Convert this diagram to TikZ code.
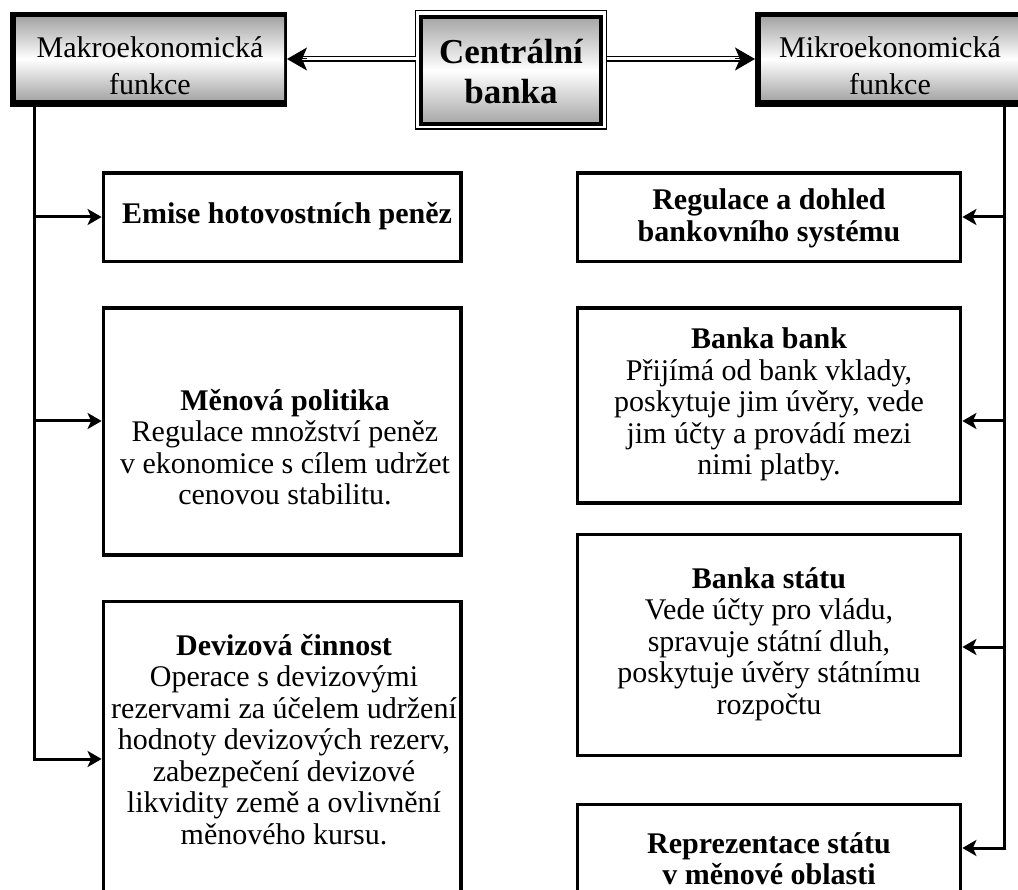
\documentclass[tikz,border=0pt]{standalone}
\usepackage{fontspec}
\setmainfont{Liberation Serif}
\usetikzlibrary{arrows.meta}
\tikzset{
  box/.style={draw, line width=3.8pt, inner sep=0pt},
  conn/.style={line width=3pt},
  arr/.style={line width=3pt, -{Stealth[length=14pt,width=16pt,inset=3.5pt]}},
  bigarr/.style={line width=1pt, -{Stealth[length=20pt,width=23pt,inset=5pt]}},
  dbl/.style={line width=1.9pt, double=white, double distance=3pt},
  txt/.style={align=center, inner sep=0pt, font=\fontsize{30}{31.5}\selectfont},
  toptxt/.style={align=center, inner sep=0pt, font=\fontsize{30}{37}\selectfont},
  shade3/.style={top color=black!35, bottom color=black!35, middle color=white},
}
\begin{document}
\begin{tikzpicture}[x=1pt,y=-1pt]
\useasboundingbox (0,0) rectangle (1018,890);
% top-left box
\node[fill=black, minimum width=277pt, minimum height=95pt, inner sep=0pt, outer sep=0pt] (makro) at (148.5,59.5) {};
\node[shade3, minimum width=268pt, minimum height=82pt, inner sep=0pt] (makroin) at (150,59) {};
\node[toptxt] (makrot) at (150,69.1) {\strut Makroekonomická\\funkce\strut};
% top-right box
\node[fill=black, minimum width=277pt, minimum height=95pt, inner sep=0pt, outer sep=0pt] (mikro) at (893.5,59.5) {};
\node[shade3, minimum width=268pt, minimum height=82pt, inner sep=0pt] (mikroin) at (895,59) {};
\node[toptxt] (mikrot) at (890,69.1) {\strut Mikroekonomická\\funkce\strut};
% central box
\node[draw, line width=1.5pt, minimum width=191pt, minimum height=118.5pt, inner sep=0pt, outer sep=0pt] (cb) at (511,69.75) {};
\node[draw, line width=3.5pt, shade3, minimum width=180pt, minimum height=107pt, inner sep=0pt] (cbin) at (511,70.5) {};
\node[align=center, inner sep=0pt, font=\fontsize{35}{40}\selectfont\bfseries] (cbt) at (511,76) {\strut Centrální\\banka\strut};
% double arrows
\draw[dbl] (cb.west |- 0,59) -- ([xshift=14pt]makro.east |- 0,59);
\draw[bigarr] ([xshift=20pt]makro.east |- 0,59) -- (makro.east |- 0,59);
\draw[dbl] (cb.east |- 0,59) -- ([xshift=-14pt]mikro.west |- 0,59);
\draw[bigarr] ([xshift=-20pt]mikro.west |- 0,59) -- (mikro.west |- 0,59);
% left boxes
\node[box, minimum width=357.5pt, minimum height=88.5pt] (emise) at (282.25,217.25) {};
\node[txt] (emiset) at (287,217.7) {\strut\textbf{Emise hotovostních peněz}\strut};
\node[box, minimum width=357.5pt, minimum height=246.7pt] (menova) at (282.25,431.7) {};
\node[txt] (menovat) at (285,450.95) {\strut\textbf{Měnová politika}\\Regulace množství peněz\\v ekonomice s cílem udržet\\cenovou stabilitu.\strut};
\node[box, minimum width=357.5pt, minimum height=298.5pt] (deviz) at (282.25,750.75) {};
\node[txt] (devizt) at (284,743.2) {\strut\textbf{Devizová činnost}\\Operace s devizovými\\rezervami za účelem udržení\\hodnoty devizových rezerv,\\zabezpečení devizové\\likvidity země a ovlivnění\\měnového kursu.\strut};
% right boxes
\node[box, minimum width=383pt, minimum height=88.5pt] (regul) at (769,217.25) {};
\node[txt] (regult) at (769,219.45) {\strut\textbf{Regulace a dohled}\\\textbf{bankovního systému}\strut};
\node[box, minimum width=383pt, minimum height=195pt] (bb) at (769,405.5) {};
\node[txt] (bbt) at (769,405.7) {\strut\textbf{Banka bank}\\Přijímá od bank vklady,\\poskytuje jim úvěry, vede\\jim účty a provádí mezi\\nimi platby.\strut};
\node[box, minimum width=383pt, minimum height=221pt] (bs) at (769,645) {};
\node[txt] (bst) at (769,644.7) {\strut\textbf{Banka státu}\\Vede účty pro vládu,\\spravuje státní dluh,\\poskytuje úvěry státnímu\\rozpočtu\strut};
\node[box, minimum width=383pt, minimum height=110pt] (rep) at (769,859.5) {};
\node[txt] (rept) at (769,862.5) {\strut\textbf{Reprezentace státu}\\\textbf{v měnové oblasti}\strut};
% left trunk
\coordinate (L1) at (34.5,217);
\coordinate (L2) at (34.5,421);
\coordinate (L3) at (34.5,759);
\draw[conn] (makro.south -| L1) -- (L3);
\draw[arr] (L1) -- (L1 -| emise.west);
\draw[arr] (L2) -- (L2 -| menova.west);
\draw[arr] ([xshift=-1.5pt]L3) -- (L3 -| deviz.west);
% right trunk
\coordinate (R1) at (1004.5,217);
\coordinate (R2) at (1004.5,421);
\coordinate (R3) at (1004.5,647);
\coordinate (R4) at (1004.5,848);
\draw[conn] (mikro.south -| R1) -- (R4);
\draw[arr] (R1) -- (R1 -| regul.east);
\draw[arr] (R2) -- (R2 -| bb.east);
\draw[arr] (R3) -- (R3 -| bs.east);
\draw[arr] ([xshift=1.5pt]R4) -- (R4 -| rep.east);
\end{tikzpicture}
\end{document}
